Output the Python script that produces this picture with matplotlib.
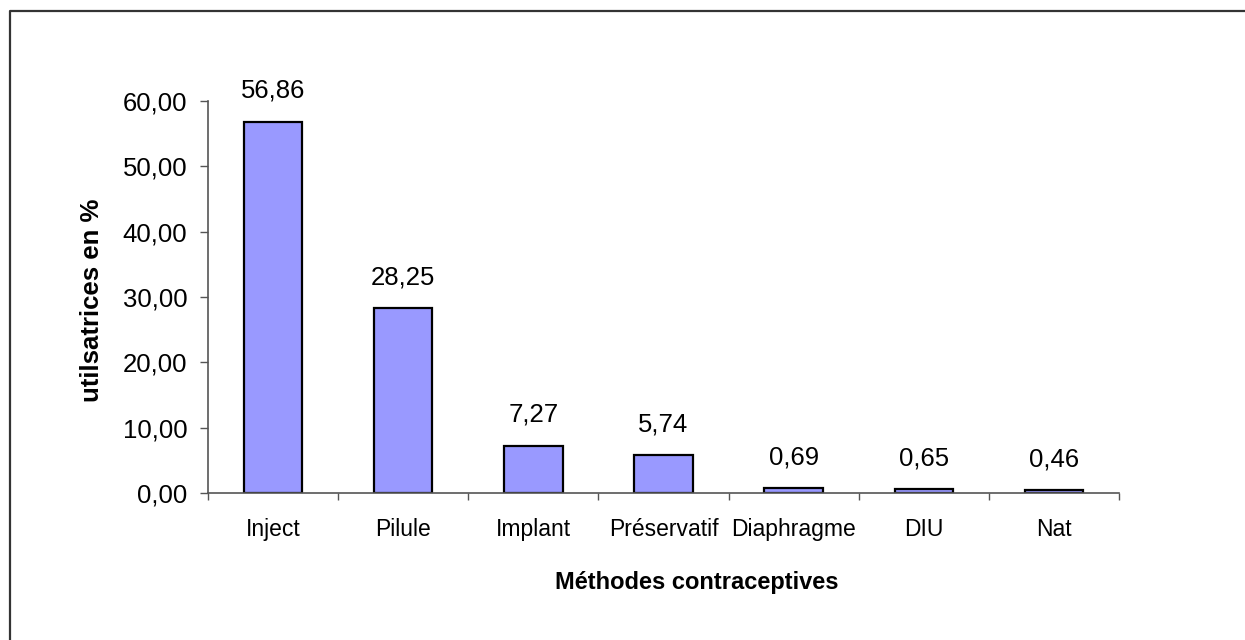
import matplotlib
matplotlib.use("Agg")
import matplotlib.pyplot as plt
from matplotlib.lines import Line2D
from matplotlib.ticker import FuncFormatter, FixedLocator
import numpy as np

methods = ["Inject", "Pilule", "Implant", "Préservatif", "Diaphragme", "DIU", "Nat"]
percents = [56.86, 28.25, 7.27, 5.74, 0.69, 0.65, 0.46]
y_ticks = [0, 10, 20, 30, 40, 50, 60]

plt.rcParams["font.family"] = ["Liberation Sans", "DejaVu Sans"]

W, H = 1245, 640
fig = plt.figure(figsize=(W / 100, H / 100), dpi=100)
ax = fig.add_axes([208 / W, 1 - 493 / H, (1119 - 208) / W, (493 - 101) / H])

x = np.arange(len(methods))
ax.bar(x, percents, width=0.45, color="#9999FF", edgecolor="black", linewidth=1.6)

for xi, v in zip(x, percents):
    ax.annotate(f"{v:.2f}".replace(".", ","), xy=(xi, v), xytext=(0, 17),
                textcoords="offset points", ha="center", va="baseline", fontsize=18.5)

ax.set_xlim(-0.5, len(methods) - 0.5)
ax.set_ylim(0, 60)
ax.set_yticks(y_ticks)
ax.yaxis.set_major_formatter(FuncFormatter(lambda v, p: f"{v:.2f}".replace(".", ",")))
ax.tick_params(axis="y", direction="out", length=6, width=1, color="#555555", pad=9, labelsize=18.5)

ax.set_xticks(x)
ax.set_xticklabels(methods)
ax.xaxis.set_minor_locator(FixedLocator(np.arange(-0.5, len(methods), 1.0)))
ax.tick_params(axis="x", which="major", length=0, pad=18, labelsize=16.5)
ax.tick_params(axis="x", which="minor", direction="out", length=5, width=1, color="#555555")

for side in ["top", "right"]:
    ax.spines[side].set_visible(False)
for side in ["left", "bottom"]:
    ax.spines[side].set_color("#555555")
    ax.spines[side].set_linewidth(1.2)

fig.text(92 / W, 1 - 300 / H, "utilsatrices en %", rotation=90, ha="center", va="center",
         fontsize=18.5, fontweight="bold")
fig.text(697 / W, 1 - 589 / H, "Méthodes contraceptives", ha="center", va="baseline",
         fontsize=17, fontweight="bold")

# outer chart border (only top and left visible in the crop)
fig.add_artist(Line2D([10 / W, 10 / W, 1], [0, 1 - 11 / H, 1 - 11 / H],
                      transform=fig.transFigure, color="#333333", linewidth=1.6))

fig.savefig("out.png", dpi=100)
